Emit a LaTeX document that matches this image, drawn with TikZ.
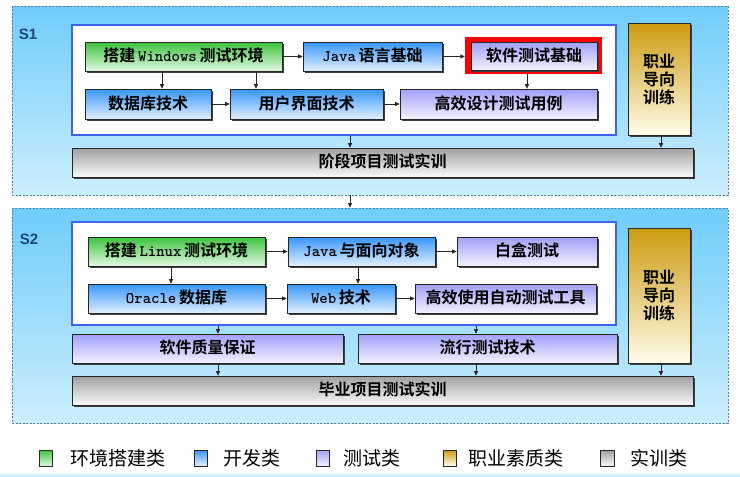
\documentclass[tikz,border=0pt]{standalone}
\usepackage{fontspec}
\newfontfamily\cjk[BoldFont={Noto Sans CJK SC Bold}]{Noto Sans CJK SC}
\newfontfamily\lsans{Liberation Sans}
\usetikzlibrary{shadows,arrows.meta}
\definecolor{pantop}{RGB}{110,205,250}
\definecolor{panbot}{RGB}{205,238,253}
\definecolor{panbord}{RGB}{90,125,165}
\definecolor{inbord}{RGB}{60,100,240}
\definecolor{gtop}{RGB}{60,195,60}
\definecolor{gbot}{RGB}{225,248,225}
\definecolor{btop}{RGB}{55,150,250}
\definecolor{bbot}{RGB}{225,240,255}
\definecolor{ptop}{RGB}{160,160,250}
\definecolor{pbot}{RGB}{242,242,255}
\definecolor{otop}{RGB}{205,155,15}
\definecolor{obot}{RGB}{255,252,235}
\definecolor{ytop}{RGB}{160,160,160}
\definecolor{ybot}{RGB}{250,250,250}
\definecolor{slab}{RGB}{30,70,130}
\newcommand\cjkb{\cjk\bfseries\fontsize{16}{18}\selectfont}
\newcommand\mono[1]{{\ttfamily\fontsize{16}{18}\selectfont\addfontfeatures{FakeBold=2}#1}}
% name, x1, y1, x2, y2, style, text
\newcommand\bx[7]{%
  \pgfmathsetmacro\bxw{#4-#2}\pgfmathsetmacro\bxh{#5-#3}%
  \pgfmathsetmacro\bxx{(#2+#4)/2}\pgfmathsetmacro\bxy{(#3+#5)/2}%
  \node[#6, minimum width=\bxw pt, minimum height=\bxh pt] (#1) at (\bxx,\bxy) {#7};}
\tikzset{
  panel/.style={draw=panbord, dashed, dash pattern=on 2pt off 1.5pt, line width=0.8pt, top color=pantop, bottom color=panbot, inner sep=0pt},
  inbox/.style={draw=inbord, line width=2pt, fill=white, inner sep=0pt},
  box/.style={draw=black!85, line width=0.6pt, inner sep=0pt, font=\cjkb, text=black,
    text height=12pt, text depth=2pt,
    drop shadow={shadow xshift=1.5pt, shadow yshift=-1.5pt, fill=black!75, opacity=1}},
  gbox/.style={box, top color=gtop, bottom color=gbot},
  bbox/.style={box, top color=btop, bottom color=bbot},
  pbox/.style={box, top color=ptop, bottom color=pbot},
  obox/.style={box, top color=otop, bottom color=obot, align=center, text height=, text depth=},
  ybox/.style={box, top color=ytop, bottom color=ybot},
  redframe/.style={fill=red, inner sep=0pt},
  arr/.style={draw=black!85, line width=0.6pt, -{Triangle[length=4.5pt,width=4pt]}},
  lgsq/.style={draw=black!85, line width=0.6pt, inner sep=0pt,
    drop shadow={shadow xshift=1.2pt, shadow yshift=-1.2pt, fill=black!75, opacity=1}},
  lgtx/.style={anchor=west, inner sep=0pt, font=\cjk\fontsize{19}{20}\selectfont},
  slabel/.style={font=\lsans\bfseries\fontsize{15}{16}\selectfont, text=slab, inner sep=0pt}
}
\begin{document}
\begin{tikzpicture}[x=1pt,y=-1pt]
\useasboundingbox (0,0) rectangle (740,477);
\fill[white] (0,0) rectangle (740,477);
% panels
\bx{p1}{12}{6}{728}{195}{panel}{}
\bx{p2}{12}{208}{728}{423}{panel}{}
\node[slabel] (s1) at (28,34) {S1};
\node[slabel] (s2) at (29,239) {S2};
% inner white boxes
\bx{in1}{72}{25}{616}{135}{inbox}{}
\bx{in2}{72}{222}{616}{325}{inbox}{}
% S1 boxes
\bx{rf}{465}{37}{602}{74}{redframe}{}
\bx{w}{85}{42}{282}{71}{gbox}{搭建\,\mono{Windows}\,测试环境}
\bx{j}{303}{42}{442}{71}{bbox}{\mono{Java}\,语言基础}
\bx{st}{471}{42}{597}{70}{pbox}{软件测试基础}
\bx{dbs}{85}{89}{211}{119}{bbox}{数据库技术}
\bx{ui}{230}{89}{383}{119}{bbox}{用户界面技术}
\bx{gx}{400}{89}{597}{119}{pbox}{高效设计测试用例}
\bx{stage}{72}{148}{693}{177}{ybox}{阶段项目测试实训}
\bx{zy1}{628}{23}{690}{135}{obox}{职业\\导向\\训练}
% S1 arrows
\draw[arr] (w.east) -- (w.east -| j.west);
\draw[arr] (j.east) -- (j.east -| rf.west);
\draw[arr] (w.south -| 162,0) -- (dbs.north -| 162,0);
\draw[arr] (w.south -| 256,0) -- (ui.north -| 256,0);
\draw[arr] (dbs.east) -- (dbs.east -| ui.west);
\draw[arr] (ui.east) -- (ui.east -| gx.west);
\draw[arr] (rf.south -| 527,0) -- (gx.north -| 527,0);
\draw[arr] (in1.south -| 350,0) -- (stage.north -| 350,0);
\draw[arr] (zy1.south -| 661,0) -- (stage.north -| 661,0);
\draw[arr] (p1.south -| 350,0) -- (p2.north -| 350,0);
% S2 boxes
\bx{lx}{88}{237}{265}{266}{gbox}{搭建\,\mono{Linux}\,测试环境}
\bx{jo}{288}{237}{435}{266}{bbox}{\mono{Java}\,与面向对象}
\bx{bh}{457}{237}{597}{266}{pbox}{白盒测试}
\bx{ora}{88}{284}{265}{313}{bbox}{\mono{Oracle}\,数据库}
\bx{web}{287}{284}{395}{313}{bbox}{\mono{Web}\,技术}
\bx{zd}{415}{284}{596}{313}{pbox}{高效使用自动测试工具}
\bx{zl}{72}{334}{343}{363}{pbox}{软件质量保证}
\bx{lxjs}{358}{334}{617}{363}{pbox}{流行测试技术}
\bx{by}{72}{376}{693}{405}{ybox}{毕业项目测试实训}
\bx{zy2}{628}{228}{690}{363}{obox}{职业\\导向\\训练}
% S2 arrows
\draw[arr] (lx.east) -- (lx.east -| jo.west);
\draw[arr] (jo.east) -- (jo.east -| bh.west);
\draw[arr] (lx.south -| 171,0) -- (ora.north -| 171,0);
\draw[arr] (jo.south -| 358,0) -- (web.north -| 358,0);
\draw[arr] (ora.east) -- (ora.east -| web.west);
\draw[arr] (web.east) -- (web.east -| zd.west);
\draw[arr] (in2.south -| 218,0) -- (zl.north -| 218,0);
\draw[arr] (in2.south -| 476,0) -- (lxjs.north -| 476,0);
\draw[arr] (zl.south -| 218,0) -- (by.north -| 218,0);
\draw[arr] (lxjs.south -| 476,0) -- (by.north -| 476,0);
\draw[arr] (zy2.south -| 661,0) -- (by.north -| 661,0);
% legend
\bx{lg1}{39}{450}{52}{466}{lgsq, top color=gtop, bottom color=gbot}{}
\node[lgtx] (lt1) at (70,458) {环境搭建类};
\bx{lg2}{194}{450}{207}{466}{lgsq, top color=btop, bottom color=bbot}{}
\node[lgtx] (lt2) at (223,458) {开发类};
\bx{lg3}{316}{450}{329}{466}{lgsq, top color=ptop, bottom color=pbot}{}
\node[lgtx] (lt3) at (343,458) {测试类};
\bx{lg4}{443}{450}{456}{466}{lgsq, top color=otop, bottom color=obot}{}
\node[lgtx] (lt4) at (468,458) {职业素质类};
\bx{lg5}{600}{450}{614}{466}{lgsq, top color=ytop, bottom color=ybot}{}
\node[lgtx] (lt5) at (630,458) {实训类};
\draw[cyan!18, line width=2.5pt] (0,475.5) -- (740,475.5);
\end{tikzpicture}
\end{document}
